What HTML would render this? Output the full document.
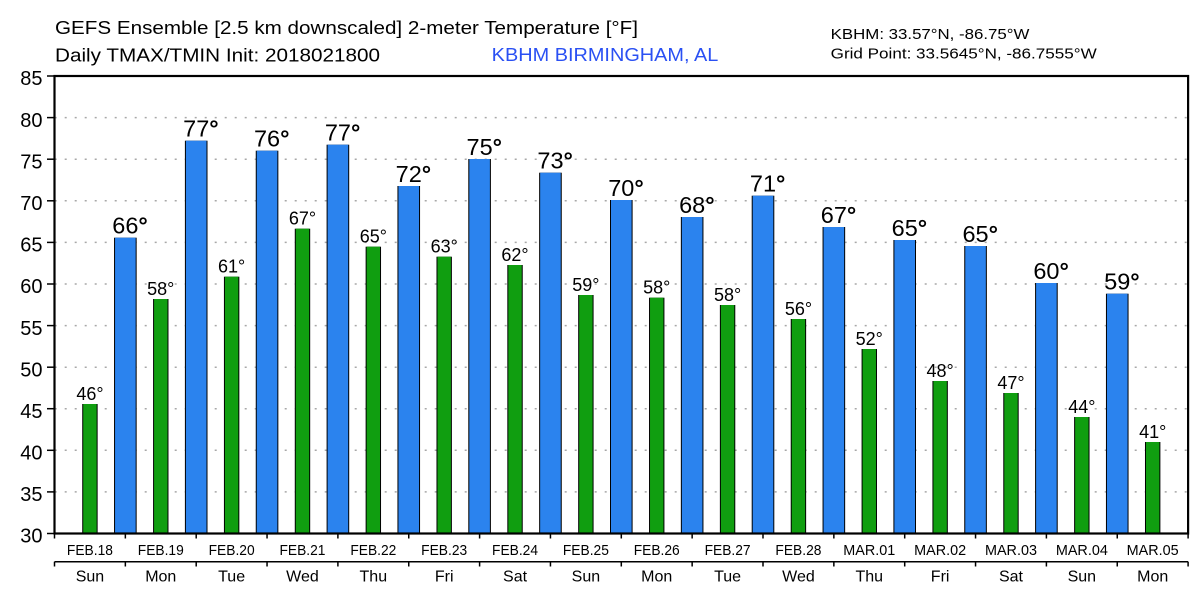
<!DOCTYPE html>
<html>
<head>
<meta charset="utf-8">
<style>
html,body{margin:0;padding:0;background:#fff;}
svg{display:block;}
text{font-family:"Liberation Sans",sans-serif;fill:#000;}
</style>
</head>
<body>
<svg width="1200" height="600" viewBox="0 0 1200 600" xmlns="http://www.w3.org/2000/svg">
<rect x="0" y="0" width="1200" height="600" fill="#fff"/>

<!-- Titles -->
<text x="55" y="34" font-size="18" textLength="583" lengthAdjust="spacingAndGlyphs">GEFS Ensemble [2.5 km downscaled] 2-meter Temperature [°F]</text>
<text x="55" y="61.5" font-size="18" textLength="325" lengthAdjust="spacingAndGlyphs">Daily TMAX/TMIN Init: 2018021800</text>
<text x="491.7" y="61" font-size="18" textLength="226.6" lengthAdjust="spacingAndGlyphs" style="fill:#2a50f3">KBHM BIRMINGHAM, AL</text>
<text x="830.7" y="39" font-size="15" textLength="198.7" lengthAdjust="spacingAndGlyphs">KBHM: 33.57°N, -86.75°W</text>
<text x="830.7" y="58.3" font-size="15" textLength="266" lengthAdjust="spacingAndGlyphs">Grid Point: 33.5645°N, -86.7555°W</text>

<!-- Gridlines -->
<g stroke="#a8a8a8" stroke-width="1.5" stroke-dasharray="2 8">
<line x1="54.7" y1="117.6" x2="1188" y2="117.6"/>
<line x1="54.7" y1="159.2" x2="1188" y2="159.2"/>
<line x1="54.7" y1="200.8" x2="1188" y2="200.8"/>
<line x1="54.7" y1="242.4" x2="1188" y2="242.4"/>
<line x1="54.7" y1="284.0" x2="1188" y2="284.0"/>
<line x1="54.7" y1="325.6" x2="1188" y2="325.6"/>
<line x1="54.7" y1="367.2" x2="1188" y2="367.2"/>
<line x1="54.7" y1="408.7" x2="1188" y2="408.7"/>
<line x1="54.7" y1="450.3" x2="1188" y2="450.3"/>
<line x1="54.7" y1="491.9" x2="1188" y2="491.9"/>
</g>

<!-- Green bars (TMIN) -->
<g>
<rect x="82.23" y="404" width="15.4" height="129.5" fill="#000"/><rect x="83.23" y="404" width="13.4" height="129.5" fill="#109e10"/>
<rect x="153.08" y="299" width="15.4" height="234.5" fill="#000"/><rect x="154.08" y="299" width="13.4" height="234.5" fill="#109e10"/>
<rect x="223.93" y="276.7" width="15.4" height="256.8" fill="#000"/><rect x="224.93" y="276.7" width="13.4" height="256.8" fill="#109e10"/>
<rect x="294.78" y="228.7" width="15.4" height="304.8" fill="#000"/><rect x="295.78" y="228.7" width="13.4" height="304.8" fill="#109e10"/>
<rect x="365.63" y="246.7" width="15.4" height="286.8" fill="#000"/><rect x="366.63" y="246.7" width="13.4" height="286.8" fill="#109e10"/>
<rect x="436.48" y="256.7" width="15.4" height="276.8" fill="#000"/><rect x="437.48" y="256.7" width="13.4" height="276.8" fill="#109e10"/>
<rect x="507.33" y="265" width="15.4" height="268.5" fill="#000"/><rect x="508.33" y="265" width="13.4" height="268.5" fill="#109e10"/>
<rect x="578.18" y="295" width="15.4" height="238.5" fill="#000"/><rect x="579.18" y="295" width="13.4" height="238.5" fill="#109e10"/>
<rect x="649.03" y="297.7" width="15.4" height="235.8" fill="#000"/><rect x="650.03" y="297.7" width="13.4" height="235.8" fill="#109e10"/>
<rect x="719.88" y="305" width="15.4" height="228.5" fill="#000"/><rect x="720.88" y="305" width="13.4" height="228.5" fill="#109e10"/>
<rect x="790.73" y="319" width="15.4" height="214.5" fill="#000"/><rect x="791.73" y="319" width="13.4" height="214.5" fill="#109e10"/>
<rect x="861.58" y="349" width="15.4" height="184.5" fill="#000"/><rect x="862.58" y="349" width="13.4" height="184.5" fill="#109e10"/>
<rect x="932.43" y="381" width="15.4" height="152.5" fill="#000"/><rect x="933.43" y="381" width="13.4" height="152.5" fill="#109e10"/>
<rect x="1003.28" y="393" width="15.4" height="140.5" fill="#000"/><rect x="1004.28" y="393" width="13.4" height="140.5" fill="#109e10"/>
<rect x="1074.13" y="417" width="15.4" height="116.5" fill="#000"/><rect x="1075.13" y="417" width="13.4" height="116.5" fill="#109e10"/>
<rect x="1144.98" y="442" width="15.4" height="91.5" fill="#000"/><rect x="1145.98" y="442" width="13.4" height="91.5" fill="#109e10"/>
</g>

<!-- Blue bars (TMAX) -->
<g>
<rect x="114.05" y="237.7" width="22.6" height="295.8" fill="#000"/><rect x="115.05" y="237.7" width="20.6" height="295.8" fill="#2b83ee"/>
<rect x="184.9" y="140.7" width="22.6" height="392.8" fill="#000"/><rect x="185.9" y="140.7" width="20.6" height="392.8" fill="#2b83ee"/>
<rect x="255.75" y="150.7" width="22.6" height="382.8" fill="#000"/><rect x="256.75" y="150.7" width="20.6" height="382.8" fill="#2b83ee"/>
<rect x="326.6" y="144.7" width="22.6" height="388.8" fill="#000"/><rect x="327.6" y="144.7" width="20.6" height="388.8" fill="#2b83ee"/>
<rect x="397.45" y="186" width="22.6" height="347.5" fill="#000"/><rect x="398.45" y="186" width="20.6" height="347.5" fill="#2b83ee"/>
<rect x="468.3" y="159" width="22.6" height="374.5" fill="#000"/><rect x="469.3" y="159" width="20.6" height="374.5" fill="#2b83ee"/>
<rect x="539.15" y="172.7" width="22.6" height="360.8" fill="#000"/><rect x="540.15" y="172.7" width="20.6" height="360.8" fill="#2b83ee"/>
<rect x="610.0" y="200" width="22.6" height="333.5" fill="#000"/><rect x="611.0" y="200" width="20.6" height="333.5" fill="#2b83ee"/>
<rect x="680.85" y="217" width="22.6" height="316.5" fill="#000"/><rect x="681.85" y="217" width="20.6" height="316.5" fill="#2b83ee"/>
<rect x="751.7" y="195.7" width="22.6" height="337.8" fill="#000"/><rect x="752.7" y="195.7" width="20.6" height="337.8" fill="#2b83ee"/>
<rect x="822.55" y="227" width="22.6" height="306.5" fill="#000"/><rect x="823.55" y="227" width="20.6" height="306.5" fill="#2b83ee"/>
<rect x="893.4" y="240" width="22.6" height="293.5" fill="#000"/><rect x="894.4" y="240" width="20.6" height="293.5" fill="#2b83ee"/>
<rect x="964.25" y="246" width="22.6" height="287.5" fill="#000"/><rect x="965.25" y="246" width="20.6" height="287.5" fill="#2b83ee"/>
<rect x="1035.1" y="283" width="22.6" height="250.5" fill="#000"/><rect x="1036.1" y="283" width="20.6" height="250.5" fill="#2b83ee"/>
<rect x="1105.95" y="293.7" width="22.6" height="239.8" fill="#000"/><rect x="1106.95" y="293.7" width="20.6" height="239.8" fill="#2b83ee"/>
</g>

<!-- Small labels (TMIN) -->
<g font-size="18" text-anchor="middle">
<text x="89.93" y="400">46°</text>
<text x="160.78" y="295">58°</text>
<text x="231.63" y="272.7">61°</text>
<text x="302.48" y="224.7">67°</text>
<text x="373.33" y="242.7">65°</text>
<text x="444.18" y="252.7">63°</text>
<text x="515.03" y="261">62°</text>
<text x="585.88" y="291">59°</text>
<text x="656.73" y="293.7">58°</text>
<text x="727.58" y="301">58°</text>
<text x="798.43" y="315">56°</text>
<text x="869.28" y="345">52°</text>
<text x="940.13" y="377">48°</text>
<text x="1010.98" y="389">47°</text>
<text x="1081.83" y="413">44°</text>
<text x="1152.68" y="438">41°</text>
</g>

<!-- Big labels (TMAX) -->
<g font-size="23.5">
<text x="125.35" y="233.7" text-anchor="middle">66</text><text x="138.4" y="233.7" font-weight="bold">°</text>
<text x="196.2" y="136.7" text-anchor="middle">77</text><text x="209.3" y="136.7" font-weight="bold">°</text>
<text x="267.05" y="146.7" text-anchor="middle">76</text><text x="280.1" y="146.7" font-weight="bold">°</text>
<text x="337.9" y="140.7" text-anchor="middle">77</text><text x="350.95" y="140.7" font-weight="bold">°</text>
<text x="408.75" y="182" text-anchor="middle">72</text><text x="421.8" y="182" font-weight="bold">°</text>
<text x="479.6" y="155" text-anchor="middle">75</text><text x="492.65" y="155" font-weight="bold">°</text>
<text x="550.45" y="168.7" text-anchor="middle">73</text><text x="563.5" y="168.7" font-weight="bold">°</text>
<text x="621.3" y="196" text-anchor="middle">70</text><text x="634.35" y="196" font-weight="bold">°</text>
<text x="692.15" y="213" text-anchor="middle">68</text><text x="705.2" y="213" font-weight="bold">°</text>
<text x="763.0" y="191.7" text-anchor="middle">71</text><text x="776.05" y="191.7" font-weight="bold">°</text>
<text x="833.85" y="223" text-anchor="middle">67</text><text x="846.9" y="223" font-weight="bold">°</text>
<text x="904.7" y="236" text-anchor="middle">65</text><text x="917.75" y="236" font-weight="bold">°</text>
<text x="975.55" y="242" text-anchor="middle">65</text><text x="988.6" y="242" font-weight="bold">°</text>
<text x="1046.4" y="279" text-anchor="middle">60</text><text x="1059.45" y="279" font-weight="bold">°</text>
<text x="1117.25" y="289.7" text-anchor="middle">59</text><text x="1130.3" y="289.7" font-weight="bold">°</text>
</g>

<!-- Plot frame -->
<rect x="54.5" y="76" width="1133.6" height="457.5" fill="none" stroke="#000" stroke-width="2.2"/>

<!-- Y ticks -->
<g stroke="#000" stroke-width="1.5">
<line x1="47" y1="76" x2="54.5" y2="76"/>
<line x1="47" y1="117.6" x2="54.5" y2="117.6"/>
<line x1="47" y1="159.2" x2="54.5" y2="159.2"/>
<line x1="47" y1="200.8" x2="54.5" y2="200.8"/>
<line x1="47" y1="242.4" x2="54.5" y2="242.4"/>
<line x1="47" y1="284.0" x2="54.5" y2="284.0"/>
<line x1="47" y1="325.6" x2="54.5" y2="325.6"/>
<line x1="47" y1="367.2" x2="54.5" y2="367.2"/>
<line x1="47" y1="408.7" x2="54.5" y2="408.7"/>
<line x1="47" y1="450.3" x2="54.5" y2="450.3"/>
<line x1="47" y1="491.9" x2="54.5" y2="491.9"/>
<line x1="47" y1="533.5" x2="54.5" y2="533.5"/>
</g>
<g font-size="20" text-anchor="end">
<text x="42.5" y="85.2">85</text>
<text x="42.5" y="126.8">80</text>
<text x="42.5" y="168.4">75</text>
<text x="42.5" y="210">70</text>
<text x="42.5" y="251.6">65</text>
<text x="42.5" y="293.2">60</text>
<text x="42.5" y="334.8">55</text>
<text x="42.5" y="376.4">50</text>
<text x="42.5" y="417.9">45</text>
<text x="42.5" y="459.5">40</text>
<text x="42.5" y="501.1">35</text>
<text x="42.5" y="542.7">30</text>
</g>

<!-- X axis ticks (first row) -->
<g stroke="#000" stroke-width="1.5">
<line x1="54.5" y1="534" x2="54.5" y2="538.5"/>
<line x1="125.35" y1="534" x2="125.35" y2="538.5"/>
<line x1="196.2" y1="534" x2="196.2" y2="538.5"/>
<line x1="267.05" y1="534" x2="267.05" y2="538.5"/>
<line x1="337.9" y1="534" x2="337.9" y2="538.5"/>
<line x1="408.75" y1="534" x2="408.75" y2="538.5"/>
<line x1="479.6" y1="534" x2="479.6" y2="538.5"/>
<line x1="550.45" y1="534" x2="550.45" y2="538.5"/>
<line x1="621.3" y1="534" x2="621.3" y2="538.5"/>
<line x1="692.15" y1="534" x2="692.15" y2="538.5"/>
<line x1="763.0" y1="534" x2="763.0" y2="538.5"/>
<line x1="833.85" y1="534" x2="833.85" y2="538.5"/>
<line x1="904.7" y1="534" x2="904.7" y2="538.5"/>
<line x1="975.55" y1="534" x2="975.55" y2="538.5"/>
<line x1="1046.4" y1="534" x2="1046.4" y2="538.5"/>
<line x1="1117.25" y1="534" x2="1117.25" y2="538.5"/>
<line x1="1188.1" y1="534" x2="1188.1" y2="538.5"/>
</g>
<g font-size="15" text-anchor="middle">
<text x="89.93" y="555" textLength="46" lengthAdjust="spacingAndGlyphs">FEB.18</text>
<text x="160.78" y="555" textLength="46" lengthAdjust="spacingAndGlyphs">FEB.19</text>
<text x="231.63" y="555" textLength="46" lengthAdjust="spacingAndGlyphs">FEB.20</text>
<text x="302.48" y="555" textLength="46" lengthAdjust="spacingAndGlyphs">FEB.21</text>
<text x="373.33" y="555" textLength="46" lengthAdjust="spacingAndGlyphs">FEB.22</text>
<text x="444.18" y="555" textLength="46" lengthAdjust="spacingAndGlyphs">FEB.23</text>
<text x="515.03" y="555" textLength="46" lengthAdjust="spacingAndGlyphs">FEB.24</text>
<text x="585.88" y="555" textLength="46" lengthAdjust="spacingAndGlyphs">FEB.25</text>
<text x="656.73" y="555" textLength="46" lengthAdjust="spacingAndGlyphs">FEB.26</text>
<text x="727.58" y="555" textLength="46" lengthAdjust="spacingAndGlyphs">FEB.27</text>
<text x="798.43" y="555" textLength="46" lengthAdjust="spacingAndGlyphs">FEB.28</text>
<text x="869.28" y="555" textLength="52" lengthAdjust="spacingAndGlyphs">MAR.01</text>
<text x="940.13" y="555" textLength="52" lengthAdjust="spacingAndGlyphs">MAR.02</text>
<text x="1010.98" y="555" textLength="52" lengthAdjust="spacingAndGlyphs">MAR.03</text>
<text x="1081.83" y="555" textLength="52" lengthAdjust="spacingAndGlyphs">MAR.04</text>
<text x="1152.68" y="555" textLength="52" lengthAdjust="spacingAndGlyphs">MAR.05</text>
</g>

<!-- Second axis -->
<line x1="54.5" y1="561.7" x2="1188.1" y2="561.7" stroke="#000" stroke-width="1.5"/>
<g stroke="#000" stroke-width="1.5">
<line x1="54.5" y1="561.7" x2="54.5" y2="566.5"/>
<line x1="125.35" y1="561.7" x2="125.35" y2="566.5"/>
<line x1="196.2" y1="561.7" x2="196.2" y2="566.5"/>
<line x1="267.05" y1="561.7" x2="267.05" y2="566.5"/>
<line x1="337.9" y1="561.7" x2="337.9" y2="566.5"/>
<line x1="408.75" y1="561.7" x2="408.75" y2="566.5"/>
<line x1="479.6" y1="561.7" x2="479.6" y2="566.5"/>
<line x1="550.45" y1="561.7" x2="550.45" y2="566.5"/>
<line x1="621.3" y1="561.7" x2="621.3" y2="566.5"/>
<line x1="692.15" y1="561.7" x2="692.15" y2="566.5"/>
<line x1="763.0" y1="561.7" x2="763.0" y2="566.5"/>
<line x1="833.85" y1="561.7" x2="833.85" y2="566.5"/>
<line x1="904.7" y1="561.7" x2="904.7" y2="566.5"/>
<line x1="975.55" y1="561.7" x2="975.55" y2="566.5"/>
<line x1="1046.4" y1="561.7" x2="1046.4" y2="566.5"/>
<line x1="1117.25" y1="561.7" x2="1117.25" y2="566.5"/>
<line x1="1188.1" y1="561.7" x2="1188.1" y2="566.5"/>
</g>
<g font-size="16" text-anchor="middle">
<text x="89.93" y="581.7">Sun</text>
<text x="160.78" y="581.7">Mon</text>
<text x="231.63" y="581.7">Tue</text>
<text x="302.48" y="581.7">Wed</text>
<text x="373.33" y="581.7">Thu</text>
<text x="444.18" y="581.7">Fri</text>
<text x="515.03" y="581.7">Sat</text>
<text x="585.88" y="581.7">Sun</text>
<text x="656.73" y="581.7">Mon</text>
<text x="727.58" y="581.7">Tue</text>
<text x="798.43" y="581.7">Wed</text>
<text x="869.28" y="581.7">Thu</text>
<text x="940.13" y="581.7">Fri</text>
<text x="1010.98" y="581.7">Sat</text>
<text x="1081.83" y="581.7">Sun</text>
<text x="1152.68" y="581.7">Mon</text>
</g>
</svg>
</body>
</html>
